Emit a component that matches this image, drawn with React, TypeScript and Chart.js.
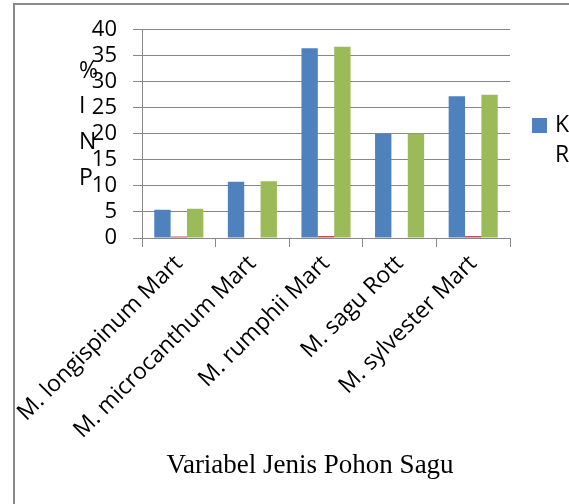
import React, { useEffect, useRef } from "react";
import { Chart, registerables } from "chart.js";

Chart.register(...registerables);

const categories = [
  "M. longispinum Mart",
  "M. microcanthum Mart",
  "M. rumphii Mart",
  "M. sagu Rott",
  "M. sylvester Mart",
];
const kValues = [5.4, 10.8, 36.4, 20.0, 27.2];
const midValues = [0.3, 0, 0.4, 0, 0.4];
const rValues = [5.6, 10.9, 36.7, 20.0, 27.5];
const yMin = 0;
const yMax = 40;
const yStep = 5;
const legendLabels = ["K", "R"];
const yTitleLines = ["%", "I", "N", "P"];
const xTitle = "Variabel Jenis Pohon Sagu";

const BLUE = "#4f81bd";
const RED = "#c0504d";
const GREEN = "#9bbb59";
const GRID = "#878787";
const SANS = "'Open Sans', sans-serif";

const W = 569;
const H = 504;

const textPlugin = {
  id: "extraText",
  afterDraw(chart: any) {
    const { ctx, chartArea } = chart;
    ctx.save();
    // stacked y title
    ctx.fillStyle = "#000";
    ctx.font = `23px ${SANS}`;
    ctx.textAlign = "left";
    ctx.textBaseline = "alphabetic";
    yTitleLines.forEach((t, i) => {
      ctx.fillText(t, chartArea.left - 63, chartArea.top + 48 + i * 35.7);
    });
    // legend
    const lx = chartArea.right + 22;
    const ly = chartArea.top + 96;
    ctx.fillStyle = BLUE;
    ctx.fillRect(lx, ly - 7.5, 15, 15);
    ctx.fillStyle = "#000";
    ctx.textBaseline = "middle";
    legendLabels.forEach((t, i) => {
      ctx.fillText(t, lx + 23, ly + i * 30);
    });
    // x title
    ctx.font = `27px 'Liberation Serif', 'Times New Roman', serif`;
    ctx.textAlign = "center";
    ctx.textBaseline = "alphabetic";
    ctx.fillText(xTitle, (chartArea.left + chartArea.right) / 2 - 16, 473);
    ctx.restore();
  },
};

export default function App() {
  const ref = useRef<HTMLCanvasElement>(null);
  useEffect(() => {
    if (!ref.current) return;
    Chart.defaults.font.family = SANS;
    const chart = new Chart(ref.current, {
      type: "bar",
      data: {
        labels: categories,
        datasets: [
          { label: "K", data: kValues, backgroundColor: BLUE },
          { label: "", data: midValues, backgroundColor: RED },
          { label: "R", data: rValues, backgroundColor: GREEN },
        ],
      },
      options: {
        responsive: false,
        animation: false,
        devicePixelRatio: 1,
        layout: { padding: { left: 0, top: 29.5, right: 59, bottom: 0 } },
        plugins: {
          legend: { display: false },
          tooltip: { enabled: false },
        },
        datasets: {
          bar: { barPercentage: 1, categoryPercentage: 0.667 },
        },
        scales: {
          x: {
            grid: {
              display: true,
              drawOnChartArea: false,
              drawTicks: true,
              tickLength: 9,
              color: GRID,
              offset: true,
            },
            border: { display: true, color: GRID, width: 1 },
            ticks: {
              color: "#000",
              font: { size: 23, family: SANS },
              minRotation: 45,
              maxRotation: 45,
              padding: 3,
              autoSkip: false,
            },
            afterFit: (s: any) => {
              s.height = H - 238;
            },
          },
          y: {
            min: yMin,
            max: yMax,
            grid: { color: GRID, tickLength: 9, drawTicks: true },
            border: { display: true, color: GRID, width: 1 },
            ticks: {
              stepSize: yStep,
              autoSkip: false,
              color: "#000",
              font: { size: 22, family: SANS },
              padding: 16,
            },
            afterFit: (s: any) => {
              s.width = 142;
            },
          },
        },
      },
      plugins: [textPlugin],
    });
    return () => chart.destroy();
  }, []);
  return (
    <div style={{ position: "absolute", left: 0, top: 0, width: W, height: H, background: "#fff" }}>
      <div
        style={{
          position: "absolute",
          left: 13,
          top: 3,
          width: W - 13,
          height: H - 3,
          borderTop: "2px solid #8a8a8a",
          borderLeft: "2px solid #8a8a8a",
          boxSizing: "border-box",
        }}
      />
      <canvas ref={ref} width={W} height={H} style={{ position: "absolute", left: 0, top: 0 }} />
    </div>
  );
}
